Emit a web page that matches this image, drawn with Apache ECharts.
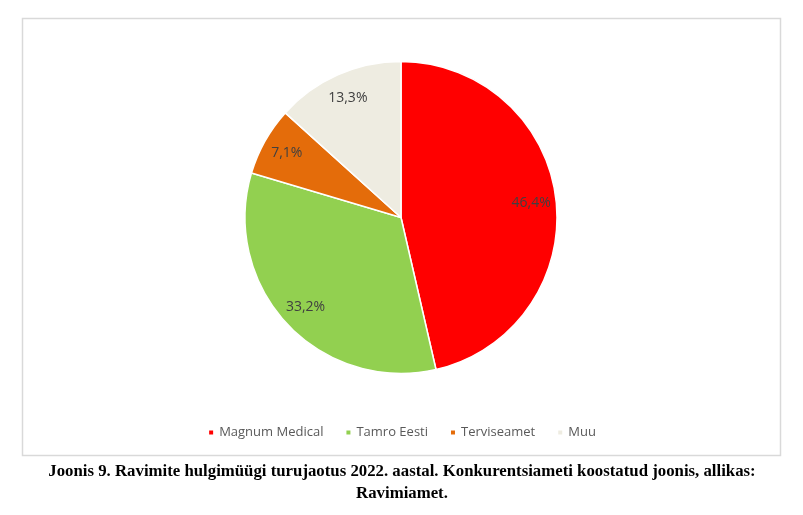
<!DOCTYPE html>
<html>
<head>
<meta charset="utf-8">
<script src="https://cdn.jsdelivr.net/npm/echarts@6/dist/echarts.min.js"></script>
<style>
html,body{margin:0;padding:0;background:#fff;}
#chart{width:803px;height:515px;}
</style>
</head>
<body>
<div id="chart"></div>
<script>
const categories = ['Magnum Medical', 'Tamro Eesti', 'Terviseamet', 'Muu'];
const values = [46.4, 33.2, 7.1, 13.3];
const colors = ['#FF0000', '#92D050', '#E46C0A', '#EEECE1'];
const caption = 'Joonis 9. Ravimite hulgimüügi turujaotus 2022. aastal. Konkurentsiameti koostatud joonis, allikas:\nRavimiamet.';

const data = categories.map((c, i) => ({ name: c, value: values[i], itemStyle: { color: colors[i] } }));
const fmt = p => p.value.toFixed(1).replace('.', ',') + '%';

const chart = echarts.init(document.getElementById('chart'), null, { renderer: 'canvas' });
chart.setOption({
  backgroundColor: '#fff',
  animation: false,
  graphic: [{
    type: 'rect',
    shape: { x: 22.5, y: 18.5, width: 758, height: 437 },
    style: { fill: '#fff', stroke: '#d9d9d9', lineWidth: 1.5 },
    z: -10
  }, {
    type: 'text',
    x: 402,
    y: 460.5,
    style: {
      text: caption,
      textAlign: 'center',
      textVerticalAlign: 'top',
      font: 'bold 16.8px "Liberation Serif"',
      lineHeight: 22,
      fill: '#000'
    }
  }],
  legend: {
    data: categories,
    bottom: 71,
    left: 'center',
    icon: 'rect',
    itemWidth: 6,
    itemHeight: 6,
    itemGap: 21,
    textStyle: { fontFamily: 'Open Sans', fontSize: 13, color: '#595959' }
  },
  series: [{
    type: 'pie',
    center: [401, 217.5],
    radius: [0, 156],
    startAngle: 90,
    clockwise: true,
    data: data,
    label: { show: false },
    labelLine: { show: false },
    itemStyle: { borderColor: '#fff', borderWidth: 1.5 },
    emphasis: { disabled: true },
    silent: true
  }, {
    type: 'pie',
    center: [401, 217.5],
    radius: [0, 256],
    startAngle: 90,
    clockwise: true,
    data: categories.map((c, i) => ({ name: c, value: values[i] })),
    itemStyle: { color: 'transparent', borderWidth: 0 },
    label: {
      show: true,
      position: 'inside',
      formatter: fmt,
      fontFamily: 'Open Sans',
      fontSize: 14,
      color: '#404040'
    },
    labelLine: { show: false },
    emphasis: { disabled: true },
    silent: true,
    legendHoverLink: false
  }]
});
</script>
</body>
</html>
